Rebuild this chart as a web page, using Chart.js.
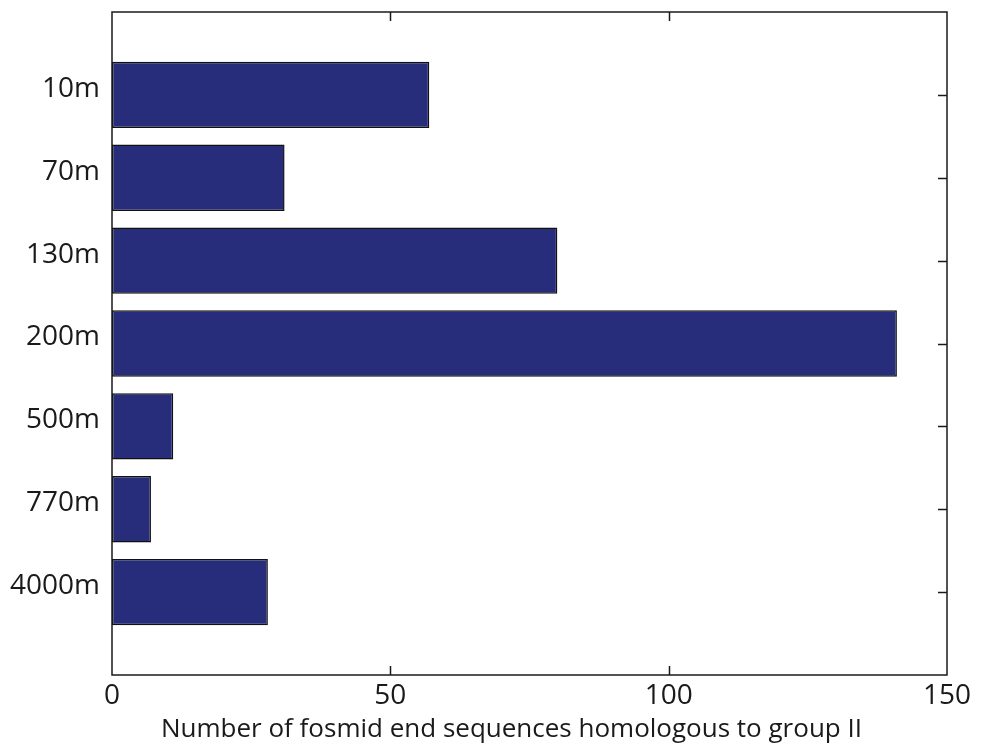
<!DOCTYPE html>
<html>
<head>
<meta charset="utf-8">
<script src="https://cdn.jsdelivr.net/npm/chart.js@4.4.1/dist/chart.umd.min.js"></script>
<style>
  html, body { margin: 0; padding: 0; background: #ffffff; }
  #wrap { width: 982px; height: 745px; }
</style>
</head>
<body>
<div id="wrap"><canvas id="c" width="982" height="745"></canvas></div>
<script>
// Sampling depths and the fosmid end-sequence counts at each depth
const depths = ['10m', '70m', '130m', '200m', '500m', '770m', '4000m'];
const counts = [57, 31, 80, 141, 11, 7, 28];
const xTicks = [0, 50, 100, 150];
const xTitle = 'Number of fosmid end sequences homologous to group II';

const FONT = '"Open Sans", "DejaVu Sans", sans-serif';
const INK = '#1a1a1a';
const BAR = '#272d7b';

// Bars sit at positions 1..N on a 0..N+1 axis, like a classic barh plot
const points = counts.map((v, i) => ({ x: v, y: i + 1 }));

// Box around the axes, short inward ticks, and the x-axis caption
const frameTicks = {
  id: 'frameTicks',
  beforeDatasetsDraw(chart) {
    const { ctx, chartArea: a, scales } = chart;
    ctx.save();
    ctx.strokeStyle = INK;
    ctx.lineWidth = 1.5;
    ctx.beginPath();
    const len = 9;
    scales.x.ticks.forEach(t => {
      if (t.value <= 0 || t.value >= 150) return;
      const px = Math.round(scales.x.getPixelForValue(t.value)) + 0.5;
      ctx.moveTo(px, a.bottom); ctx.lineTo(px, a.bottom - len);
      ctx.moveTo(px, a.top); ctx.lineTo(px, a.top + len);
    });
    scales.y.ticks.forEach(t => {
      const py = Math.round(scales.y.getPixelForValue(t.value)) + 0.5;
      ctx.moveTo(a.right, py); ctx.lineTo(a.right - len, py);
    });
    ctx.stroke();
    ctx.restore();
  },
  afterDatasetsDraw(chart) {
    const { ctx, chartArea: a } = chart;
    ctx.save();
    ctx.strokeStyle = INK;
    ctx.lineWidth = 1.5;
    ctx.strokeRect(a.left, a.top, a.right - a.left, a.bottom - a.top);
    ctx.fillStyle = INK;
    ctx.font = '26px ' + FONT;
    ctx.textAlign = 'left';
    ctx.textBaseline = 'alphabetic';
    ctx.fillText(xTitle, a.left + 49, a.bottom + 62);
    ctx.restore();
  }
};

new Chart(document.getElementById('c'), {
  type: 'bar',
  data: {
    datasets: [{
      data: points,
      backgroundColor: BAR,
      borderColor: '#111111',
      borderWidth: 1.5,
      borderSkipped: false,
      barPercentage: 0.8,
      categoryPercentage: 1.0
    }]
  },
  options: {
    indexAxis: 'y',
    responsive: false,
    animation: false,
    layout: { padding: { top: 12, right: 35, left: 0, bottom: 0 } },
    plugins: { legend: { display: false }, tooltip: { enabled: false } },
    scales: {
      x: {
        type: 'linear',
        min: 0,
        max: 150,
        afterBuildTicks: s => { s.ticks = xTicks.map(v => ({ value: v })); },
        grid: { display: false, drawTicks: false },
        border: { display: false },
        ticks: {
          color: INK,
          font: { family: FONT, size: 28 },
          padding: 4,
          maxRotation: 0
        },
        afterFit: s => {
          s.height = 70;
          s.paddingLeft = 0;
          s.paddingRight = 0;
        }
      },
      y: {
        type: 'linear',
        offset: false,
        min: 0,
        max: depths.length + 1,
        reverse: true,
        afterBuildTicks: s => { s.ticks = depths.map((d, i) => ({ value: i + 1 })); },
        grid: { display: false, drawTicks: false, offset: false },
        border: { display: false },
        ticks: {
          color: INK,
          font: { family: FONT, size: 28 },
          padding: 12,
          labelOffset: -6,
          callback: v => depths[v - 1]
        },
        afterFit: s => {
          s.width = 112;
          s.paddingTop = 0;
          s.paddingBottom = 0;
        }
      }
    }
  },
  plugins: [frameTicks]
});
</script>
</body>
</html>
